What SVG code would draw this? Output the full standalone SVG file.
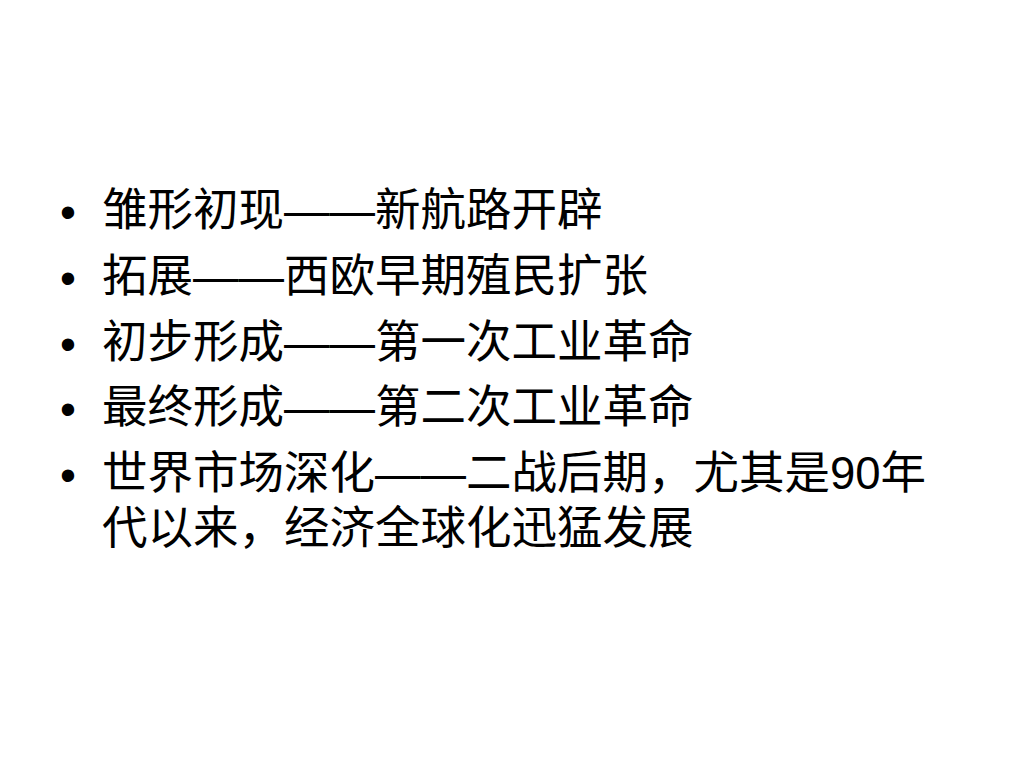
<svg xmlns="http://www.w3.org/2000/svg" width="1024" height="768" viewBox="0 0 1024 768">
<style>
.t{font-family:"Liberation Sans","Noto Sans CJK SC",sans-serif;font-size:45.5px;fill:#000}
.b{font-family:"Liberation Sans",sans-serif;font-size:45.5px;fill:#000}
</style>
<rect width="1024" height="768" fill="#fff"/>
<g id="item1"><text class="b" x="60" y="228">•</text><text class="t" x="102" y="226">雏形初现——新航路开辟</text></g>
<g id="item2"><text class="b" x="60" y="294">•</text><text class="t" x="102" y="292">拓展——西欧早期殖民扩张</text></g>
<g id="item3"><text class="b" x="60" y="360">•</text><text class="t" x="102" y="358">初步形成——第一次工业革命</text></g>
<g id="item4"><text class="b" x="60" y="425">•</text><text class="t" x="102" y="423">最终形成——第二次工业革命</text></g>
<g id="item5"><text class="b" x="60" y="491">•</text><text class="t" x="102" y="489">世界市场深化——二战后期，尤其是90年</text><text class="t" x="102" y="544">代以来，经济全球化迅猛发展</text></g>
</svg>
